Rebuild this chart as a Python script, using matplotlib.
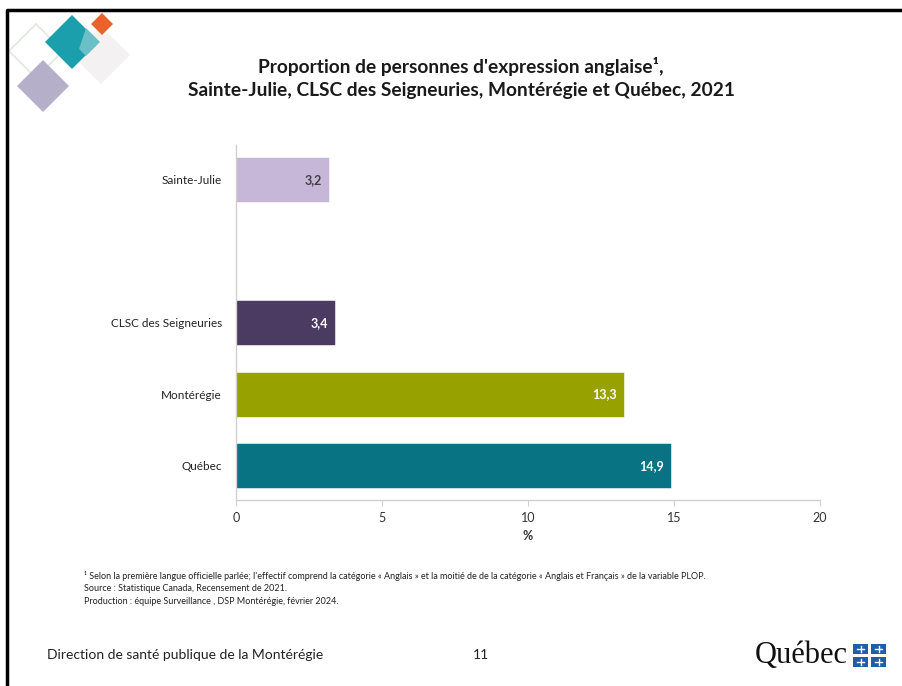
import matplotlib.pyplot as plt
from matplotlib.patches import Polygon, Rectangle

# data
categories = ["Québec", "Montérégie", "CLSC des Seigneuries", "Sainte-Julie"]
positions = [0, 1, 2, 4]          # empty slot between CLSC and Sainte-Julie
values = [14.9, 13.3, 3.4, 3.2]
bar_colors = ["#087383", "#97A200", "#4B3A61", "#C6B6D7"]
label_colors = ["white", "white", "white", "#404040"]
xticks = [0, 5, 10, 15, 20]

title = "Proportion de personnes d'expression anglaise¹,\nSainte-Julie, CLSC des Seigneuries, Montérégie et Québec, 2021"
notes = [
    "¹ Selon la première langue officielle parlée; l'effectif comprend la catégorie « Anglais » et la moitié de de la catégorie « Anglais et Français » de la variable PLOP.",
    "Source : Statistique Canada, Recensement de 2021.",
    "Production : équipe Surveillance , DSP Montérégie, février 2024.",
]

plt.rcParams['font.family'] = ['Lato', 'DejaVu Sans']

W, H = 902, 686
fig = plt.figure(figsize=(W / 100, H / 100), dpi=100)

# background layer in pixel coordinates (slide frame, logo, footer)
bg = fig.add_axes([0, 0, 1, 1], zorder=0)
bg.set_xlim(0, W)
bg.set_ylim(H, 0)
bg.axis('off')

bg.plot([7, 7, W], [H, 10, 10], color="black", lw=2.5, solid_capstyle='butt')


def diamond(cx, cy, r, **kw):
    bg.add_patch(Polygon([(cx, cy - r), (cx + r, cy), (cx, cy + r), (cx - r, cy)], closed=True, **kw))


diamond(36, 51, 27, fill=False, edgecolor="#E2E8DF", lw=1.2)
diamond(101, 55, 29, facecolor="#F3F1F1", edgecolor="none")
diamond(102, 24, 11, facecolor="#E8622A", edgecolor="none")
diamond(72, 42, 27, facecolor="#0E9AA8", edgecolor="none", alpha=0.95)
diamond(43, 86, 26, facecolor="#B6AFC9", edgecolor="none")
# overlap of teal and gray
bg.add_patch(Polygon([(86, 28), (100, 42), (86, 56), (79, 49)], closed=True,
                     facecolor="#6BBFC6", edgecolor="none"))

# footer
bg.text(47, 655, "Direction de santé publique de la Montérégie", fontsize=10,
        color="#222222", va='center', ha='left')
bg.text(481, 655, "11", fontsize=10, color="#222222", va='center', ha='center')
bg.text(755, 656, "Québec", fontsize=22, family=['Liberation Serif', 'DejaVu Serif'],
        color="#111111", va='center', ha='left')
for fx in (853, 871):
    for fy in (644, 657):
        bg.add_patch(Rectangle((fx, fy), 15, 10, facecolor="#1F5DA8", edgecolor="none"))
        bg.plot([fx + 7.5, fx + 7.5], [fy + 2, fy + 8], color="white", lw=1)
        bg.plot([fx + 4, fx + 11], [fy + 5, fy + 5], color="white", lw=1)

# title and notes
bg.text(461, 78, title, fontsize=13.8, fontweight='bold', color="#1a1a1a",
        ha='center', va='center', linespacing=1.45)
for i, line in enumerate(notes):
    bg.text(84, 576 + i * 12.5, line, fontsize=6.5, color="#222222", va='center', ha='left')

# chart
ax = fig.add_axes([236 / W, 1 - 500 / H, 584 / W, 354.6 / H], zorder=1)
ax.patch.set_alpha(0)
ax.barh(positions, values, height=0.63, color=bar_colors, edgecolor="white", linewidth=0.4)
for p, v, c in zip(positions, values, label_colors):
    ax.text(v - 0.25, p, f"{v:.1f}".replace(".", ","), ha='right', va='center',
            fontsize=9, fontweight='bold', color=c)

ax.set_xlim(0, 20)
ax.set_ylim(-0.48, 4.48)
ax.set_xticks(xticks)
ax.set_xticklabels([str(t) for t in xticks], fontsize=9, color="#333333")
ax.set_yticks(positions)
ax.set_yticklabels(categories, fontsize=8.5, color="#222222")
ax.tick_params(axis='y', length=0, pad=10)
ax.tick_params(axis='x', length=4, color="#D0D0D0", pad=5)
ax.set_xlabel("%", fontsize=9, fontweight='bold', color="#333333", labelpad=4)
for s in ("top", "right"):
    ax.spines[s].set_visible(False)
for s in ("left", "bottom"):
    ax.spines[s].set_color("#D0D0D0")
    ax.spines[s].set_linewidth(1)

fig.savefig("out.png", dpi=100)
